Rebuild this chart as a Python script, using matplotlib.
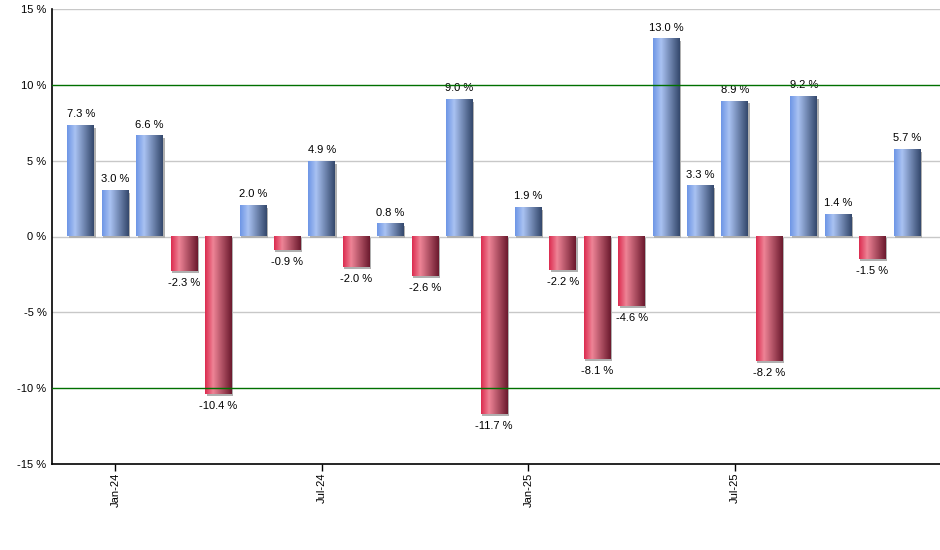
import numpy as np
import matplotlib
matplotlib.use('Agg')
import matplotlib.pyplot as plt
from matplotlib.colors import LinearSegmentedColormap
from matplotlib.patches import Rectangle

plt.rcParams['font.family'] = ['Liberation Sans', 'DejaVu Sans']

months = ['Dec-23', 'Jan-24', 'Feb-24', 'Mar-24', 'Apr-24', 'May-24', 'Jun-24',
          'Jul-24', 'Aug-24', 'Sep-24', 'Oct-24', 'Nov-24', 'Dec-24', 'Jan-25',
          'Feb-25', 'Mar-25', 'Apr-25', 'May-25', 'Jun-25', 'Jul-25', 'Aug-25',
          'Sep-25', 'Oct-25', 'Nov-25', 'Dec-25']
returns = [7.3, 3.0, 6.6, -2.3, -10.4, 2.0, -0.9, 4.9, -2.0, 0.8, -2.6, 9.0,
           -11.7, 1.9, -2.2, -8.1, -4.6, 13.0, 3.3, 8.9, -8.2, 9.2, 1.4, -1.5, 5.7]
tick_labels = ['Jan-24', 'Jul-24', 'Jan-25', 'Jul-25']
y_ticks = [-15, -10, -5, 0, 5, 10, 15]

blue_cm = LinearSegmentedColormap.from_list(
    'blue', [(0, '#6e96e6'), (0.3, '#a9c2f2'), (1, '#34486c')])
red_cm = LinearSegmentedColormap.from_list(
    'red', [(0, '#dc2c50'), (0.3, '#ee8496'), (1, '#6c1a2e')])
grad = np.linspace(0, 1, 64).reshape(1, -1)

fig = plt.figure(figsize=(9.4, 5.5), dpi=100)
ax = fig.add_axes([52 / 940, 86 / 550, 888 / 940, 455 / 550])

w = 0.78
x = np.arange(len(returns))
for i, v in zip(x, returns):
    lo, hi = min(0, v), max(0, v)
    # small grey shadow to the right/below
    ax.add_patch(Rectangle((i - w / 2 + 0.04, lo - 0.12), w, hi - lo,
                           color='#b0b0b0', zorder=2, lw=0))
    ax.imshow(grad, cmap=blue_cm if v >= 0 else red_cm, aspect='auto',
              extent=(i - w / 2, i + w / 2, lo, hi), zorder=3,
              interpolation='bilinear')
    if v >= 0:
        ax.text(i, v + 0.45, f'{v:.1f} %', ha='center', va='bottom', fontsize=8)
    else:
        ax.text(i, v - 0.45, f'{v:.1f} %', ha='center', va='top', fontsize=8)

ax.set_xlim(-0.84, 24.96)
ax.set_ylim(-15, 15)
ax.set_yticks(y_ticks)
ax.set_yticklabels([f'{t} %' for t in y_ticks], fontsize=8)
ax.tick_params(axis='y', length=0, pad=4)
ax.set_xticks([months.index(m) for m in tick_labels])
ax.set_xticklabels(tick_labels, rotation=90, fontsize=8)
ax.tick_params(axis='x', length=5, width=1, color='black', pad=1)

for t in [-5, 0, 5, 15]:
    ax.axhline(t, color='#c8c8c8', lw=1, zorder=1)
for t in [-10, 10]:
    ax.axhline(t, color='#007000', lw=1, zorder=4)

ax.spines['top'].set_visible(False)
ax.spines['right'].set_visible(False)
ax.spines['left'].set_linewidth(1.2)
ax.spines['bottom'].set_linewidth(1.2)

fig.savefig('out.png', dpi=100)
